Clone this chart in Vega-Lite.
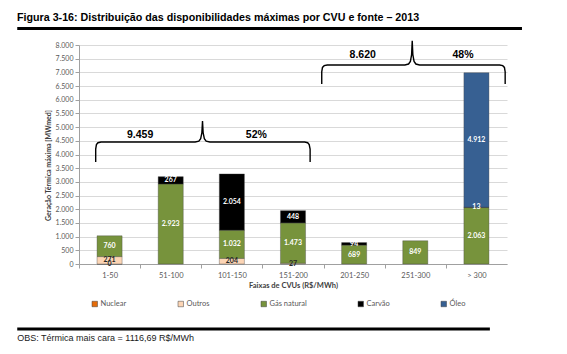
{
  "$schema": "https://vega.github.io/schema/vega-lite/v6.json",
  "width": 428,
  "height": 219,
  "autosize": {"type": "none"},
  "padding": {"left": 79, "top": 45, "right": 60, "bottom": 90},
  "background": "white",
  "config": {
    "view": {"stroke": null},
    "locale": {"number": {"decimal": ",", "thousands": ".", "grouping": [3], "currency": ["R$ ", ""]}},
    "axisY": {
      "titleFont": "Lato", "titleFontSize": 7, "titleFontWeight": "bold", "titleColor": "#404040", "titlePadding": 4,
      "labelFont": "Lato", "labelFontSize": 7, "labelColor": "#595959", "labelPadding": 2, "labelOverlap": false,
      "tickSize": 4, "tickColor": "#a0a0a0", "domainColor": "#a0a0a0",
      "gridColor": "#d9d9d9", "gridWidth": 1.2
    },
    "axisX": {
      "titleFont": "Lato", "titleFontSize": 7.5, "titleFontWeight": "bold", "titleColor": "#404040", "titlePadding": 3,
      "labelFont": "Lato", "labelFontSize": 7.5, "labelColor": "#595959", "labelAngle": 0, "labelPadding": 3,
      "tickSize": 4, "domainColor": "#a0a0a0", "tickColor": "#a0a0a0", "grid": false
    }
  },
  "title": {
    "text": "Figura 3-16: Distribuição das disponibilidades máximas por CVU e fonte – 2013",
    "anchor": "start",
    "frame": "group",
    "font": "Liberation Sans",
    "fontSize": 10.7,
    "fontWeight": "bold",
    "color": "black",
    "dx": -62,
    "offset": 3
  },
  "datasets": {
    "bars": [
      {"faixa": "1-50", "fonte": "Nuclear", "valor": 0},
      {"faixa": "1-50", "fonte": "Outros", "valor": 271},
      {"faixa": "1-50", "fonte": "Gás natural", "valor": 760},
      {"faixa": "51-100", "fonte": "Gás natural", "valor": 2923},
      {"faixa": "51-100", "fonte": "Carvão", "valor": 267},
      {"faixa": "101-150", "fonte": "Outros", "valor": 204},
      {"faixa": "101-150", "fonte": "Gás natural", "valor": 1032},
      {"faixa": "101-150", "fonte": "Carvão", "valor": 2054},
      {"faixa": "151-200", "fonte": "Outros", "valor": 27},
      {"faixa": "151-200", "fonte": "Gás natural", "valor": 1473},
      {"faixa": "151-200", "fonte": "Carvão", "valor": 448},
      {"faixa": "201-250", "fonte": "Gás natural", "valor": 689},
      {"faixa": "201-250", "fonte": "Carvão", "valor": 94},
      {"faixa": "251-300", "fonte": "Gás natural", "valor": 849},
      {"faixa": "> 300", "fonte": "Gás natural", "valor": 2063},
      {"faixa": "> 300", "fonte": "Carvão", "valor": 13},
      {"faixa": "> 300", "fonte": "Óleo", "valor": 4912}
    ],
    "braces": [
      {"brace": 1, "i": 0, "x": 0.273, "y": 3726},
      {"brace": 1, "i": 1, "x": 0.273, "y": 4200},
      {"brace": 1, "i": 2, "x": 0.285, "y": 4360},
      {"brace": 1, "i": 3, "x": 0.31, "y": 4430},
      {"brace": 1, "i": 4, "x": 0.36, "y": 4456},
      {"brace": 1, "i": 5, "x": 1.9, "y": 4456},
      {"brace": 1, "i": 6, "x": 1.96, "y": 4490},
      {"brace": 1, "i": 7, "x": 1.99, "y": 4580},
      {"brace": 1, "i": 8, "x": 2.01, "y": 4800},
      {"brace": 1, "i": 9, "x": 2.02, "y": 5223},
      {"brace": 1, "i": 10, "x": 2.03, "y": 4800},
      {"brace": 1, "i": 11, "x": 2.05, "y": 4580},
      {"brace": 1, "i": 12, "x": 2.08, "y": 4490},
      {"brace": 1, "i": 13, "x": 2.14, "y": 4456},
      {"brace": 1, "i": 14, "x": 3.69, "y": 4456},
      {"brace": 1, "i": 15, "x": 3.74, "y": 4430},
      {"brace": 1, "i": 16, "x": 3.765, "y": 4360},
      {"brace": 1, "i": 17, "x": 3.78, "y": 4200},
      {"brace": 1, "i": 18, "x": 3.78, "y": 3726},
      {"brace": 2, "i": 0, "x": 3.97, "y": 6575},
      {"brace": 2, "i": 1, "x": 3.97, "y": 7020},
      {"brace": 2, "i": 2, "x": 3.982, "y": 7180},
      {"brace": 2, "i": 3, "x": 4.01, "y": 7245},
      {"brace": 2, "i": 4, "x": 4.06, "y": 7270},
      {"brace": 2, "i": 5, "x": 5.33, "y": 7270},
      {"brace": 2, "i": 6, "x": 5.39, "y": 7305},
      {"brace": 2, "i": 7, "x": 5.42, "y": 7400},
      {"brace": 2, "i": 8, "x": 5.44, "y": 7650},
      {"brace": 2, "i": 9, "x": 5.45, "y": 8150},
      {"brace": 2, "i": 10, "x": 5.46, "y": 7650},
      {"brace": 2, "i": 11, "x": 5.48, "y": 7400},
      {"brace": 2, "i": 12, "x": 5.51, "y": 7305},
      {"brace": 2, "i": 13, "x": 5.57, "y": 7270},
      {"brace": 2, "i": 14, "x": 6.88, "y": 7270},
      {"brace": 2, "i": 15, "x": 6.93, "y": 7245},
      {"brace": 2, "i": 16, "x": 6.958, "y": 7180},
      {"brace": 2, "i": 17, "x": 6.97, "y": 7020},
      {"brace": 2, "i": 18, "x": 6.97, "y": 6575}
    ],
    "notes": [
      {"label": "9.459", "x": 1.0, "y": 4712},
      {"label": "52%", "x": 2.9, "y": 4712},
      {"label": "8.620", "x": 4.64, "y": 7630},
      {"label": "48%", "x": 6.28, "y": 7630}
    ]
  },
  "layer": [
    {
      "data": {"name": "bars"},
      "transform": [
        {"calculate": "indexof(['Nuclear','Outros','Gás natural','Carvão','Óleo'], datum.fonte)", "as": "ord"}
      ],
      "layer": [
        {
          "mark": {"type": "bar", "stroke": "#404040", "strokeWidth": 0.6, "strokeOpacity": 0.6},
          "encoding": {
            "x": {
              "field": "faixa", "type": "nominal",
              "sort": ["1-50", "51-100", "101-150", "151-200", "201-250", "251-300", "> 300"],
              "scale": {"paddingInner": 0.59, "paddingOuter": 0.295},
              "axis": {"title": "Faixas de CVUs (R$/MWh)", "tickOffset": -30.57, "labelOffset": 30.57}
            },
            "y": {
              "field": "valor", "type": "quantitative", "stack": "zero",
              "scale": {"domain": [0, 8000], "nice": false},
              "axis": {
                "title": "Geração Térmica máxima [MWmed]",
                "titleY": 120,
                "values": [0, 500, 1000, 1500, 2000, 2500, 3000, 3500, 4000, 4500, 5000, 5500, 6000, 6500, 7000, 7500, 8000],
                "format": ",d"
              }
            },
            "color": {
              "field": "fonte", "type": "nominal",
              "scale": {
                "domain": ["Nuclear", "Outros", "Gás natural", "Carvão", "Óleo"],
                "range": ["#E46C0A", "#FCD5B5", "#77933C", "#000000", "#376092"]
              },
              "legend": {
                "title": null, "orient": "none", "legendX": 12, "legendY": 255,
                "direction": "horizontal", "columnPadding": 50,
                "symbolType": "square", "symbolSize": 30, "symbolStrokeColor": "#404040", "symbolStrokeWidth": 0.5,
                "labelFont": "Lato", "labelFontSize": 7.5, "labelColor": "#595959", "labelOffset": 2
              }
            },
            "order": {"field": "ord", "type": "quantitative"}
          }
        },
        {
          "transform": [
            {"stack": "valor", "groupby": ["faixa"], "sort": [{"field": "ord"}], "as": ["v0", "v1"]},
            {"calculate": "(datum.v0 + datum.v1) / 2", "as": "mid"}
          ],
          "mark": {"type": "text", "font": "Lato", "fontSize": 7, "fontWeight": "bold", "baseline": "middle"},
          "encoding": {
            "x": {
              "field": "faixa", "type": "nominal",
              "sort": ["1-50", "51-100", "101-150", "151-200", "201-250", "251-300", "> 300"],
              "axis": {"title": "Faixas de CVUs (R$/MWh)", "tickOffset": -30.57, "labelOffset": 30.57}
            },
            "y": {
              "field": "mid", "type": "quantitative",
              "scale": {"domain": [0, 8000], "nice": false},
              "axis": {
                "title": "Geração Térmica máxima [MWmed]",
                "titleY": 120,
                "values": [0, 500, 1000, 1500, 2000, 2500, 3000, 3500, 4000, 4500, 5000, 5500, 6000, 6500, 7000, 7500, 8000],
                "format": ",d"
              }
            },
            "text": {"field": "valor", "type": "quantitative", "format": ",d"},
            "color": {"condition": {"test": "datum.fonte === 'Outros' || datum.fonte === 'Nuclear'", "value": "#262626"}, "value": "white"}
          }
        }
      ]
    },
    {
      "layer": [
        {
          "data": {"name": "braces"},
          "mark": {"type": "line", "color": "black", "strokeWidth": 1.4, "clip": false},
          "encoding": {
            "x": {"field": "x", "type": "quantitative", "scale": {"domain": [0, 7], "nice": false, "zero": false}, "axis": null},
            "y": {"field": "y", "type": "quantitative", "scale": {"domain": [0, 8000], "nice": false}, "axis": null},
            "detail": {"field": "brace"},
            "order": {"field": "i"}
          }
        },
        {
          "data": {"name": "notes"},
          "mark": {"type": "text", "font": "Liberation Sans", "fontSize": 10.5, "fontWeight": "bold", "color": "black", "baseline": "middle"},
          "encoding": {
            "x": {"field": "x", "type": "quantitative", "scale": {"domain": [0, 7], "nice": false, "zero": false}, "axis": null},
            "y": {"field": "y", "type": "quantitative", "scale": {"domain": [0, 8000], "nice": false}, "axis": null},
            "text": {"field": "label"}
          }
        },
        {
          "data": {"values": [{}]},
          "mark": {"type": "rule", "color": "black", "strokeWidth": 3, "clip": false},
          "encoding": {
            "x": {"datum": -1.01, "type": "quantitative", "scale": {"domain": [0, 7], "nice": false, "zero": false}, "axis": null},
            "x2": {"datum": 7.245},
            "y": {"datum": 8603, "type": "quantitative", "scale": {"domain": [0, 8000], "nice": false}, "axis": null}
          }
        },
        {
          "data": {"values": [{}]},
          "mark": {"type": "rule", "color": "black", "strokeWidth": 3, "clip": false},
          "encoding": {
            "x": {"datum": -1.01, "type": "quantitative", "scale": {"domain": [0, 7], "nice": false, "zero": false}, "axis": null},
            "x2": {"datum": 6.72},
            "y": {"datum": -2375, "type": "quantitative", "scale": {"domain": [0, 8000], "nice": false}, "axis": null}
          }
        },
        {
          "data": {"values": [{}]},
          "mark": {"type": "text", "text": "OBS: Térmica mais cara = 1116,69 R$/MWh", "font": "Liberation Sans", "fontSize": 9, "color": "#1a1a1a", "align": "left", "baseline": "middle", "clip": false},
          "encoding": {
            "x": {"datum": -1.01, "type": "quantitative", "scale": {"domain": [0, 7], "nice": false, "zero": false}, "axis": null},
            "y": {"datum": -2703, "type": "quantitative", "scale": {"domain": [0, 8000], "nice": false}, "axis": null}
          }
        }
      ]
    }
  ],
  "resolve": {"scale": {"x": "independent", "y": "independent"}, "axis": {"x": "independent", "y": "independent"}}
}
